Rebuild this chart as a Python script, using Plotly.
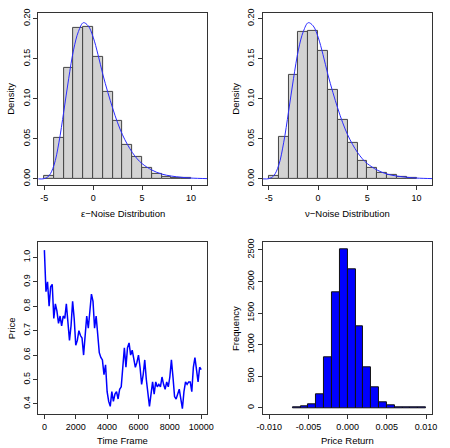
import plotly.graph_objects as go

# ---------------- data ----------------
# panel 1: epsilon-noise histogram (density), bins of width 1
eps_bin_left = [-5, -4, -3, -2, -1, 0, 1, 2, 3, 4, 5, 6, 7, 8, 9]
eps_density = [0.004, 0.051, 0.138, 0.188, 0.190, 0.152, 0.109, 0.072, 0.043, 0.027, 0.014, 0.006, 0.003, 0.0015, 0.0006]
# panel 2: nu-noise histogram (density)
nu_bin_left = [-5, -4, -3, -2, -1, 0, 1, 2, 3, 4, 5, 6, 7, 8, 9]
nu_density = [0.004, 0.052, 0.130, 0.184, 0.185, 0.160, 0.111, 0.074, 0.045, 0.022, 0.014, 0.008, 0.0045, 0.002, 0.001]
# fitted density curve
curve_x = [-5.6, -5.0, -4.5, -4.0, -3.5, -3.0, -2.5, -2.0, -1.5, -1.0, -0.5, 0.0, 0.5, 1.0, 1.5,
           2.0, 2.5, 3.0, 3.5, 4.0, 4.5, 5.0, 6.0, 7.0, 8.0, 9.0, 10.0, 11.7]
curve_eps = [0.0, 0.0003, 0.004, 0.017, 0.045, 0.084, 0.125, 0.161, 0.184, 0.195, 0.191, 0.177, 0.155, 0.130, 0.108,
             0.088, 0.070, 0.055, 0.043, 0.033, 0.025, 0.019, 0.011, 0.006, 0.0035, 0.002, 0.001, 0.0003]
curve_nu = [0.0, 0.0003, 0.004, 0.017, 0.045, 0.084, 0.125, 0.161, 0.184, 0.195, 0.191, 0.177, 0.155, 0.130, 0.108,
            0.088, 0.070, 0.055, 0.043, 0.033, 0.025, 0.019, 0.011, 0.006, 0.0035, 0.002, 0.001, 0.0003]

# panel 3: price path
time_frame = list(range(0, 10001, 100))
price = [1.03, 0.86, 0.90, 0.80, 0.88, 0.89, 0.75, 0.81, 0.78, 0.73,
         0.76, 0.72, 0.76, 0.75, 0.81, 0.74, 0.66, 0.72, 0.82, 0.75,
         0.64, 0.66, 0.70, 0.68, 0.67, 0.60, 0.70, 0.76, 0.71, 0.80,
         0.85, 0.82, 0.71, 0.76, 0.68, 0.61, 0.59, 0.58, 0.52, 0.56,
         0.45, 0.41, 0.39, 0.45, 0.41, 0.44, 0.45, 0.42, 0.46, 0.47,
         0.55, 0.63, 0.55, 0.63, 0.65, 0.60, 0.62, 0.58, 0.55, 0.57,
         0.60, 0.55, 0.48, 0.52, 0.58, 0.50, 0.45, 0.39, 0.44, 0.49,
         0.44, 0.49, 0.47, 0.48, 0.47, 0.51, 0.48, 0.46, 0.49, 0.47,
         0.51, 0.58, 0.51, 0.43, 0.42, 0.44, 0.46, 0.42, 0.38, 0.45,
         0.49, 0.48, 0.49, 0.49, 0.45, 0.55, 0.59, 0.54, 0.49, 0.55, 0.54]

# panel 4: price-return histogram (frequency), bins of width 0.001
ret_bin_left = [-0.007, -0.006, -0.005, -0.004, -0.003, -0.002, -0.001, 0.000, 0.001,
                0.002, 0.003, 0.004, 0.005, 0.006, 0.007, 0.008, 0.009]
ret_freq = [5, 20, 62, 214, 797, 1823, 2516, 2188, 1292, 635, 318, 94, 45, 15, 8, 4, 2]

ret_tickvals = [-0.010, -0.005, 0.0, 0.005, 0.010]
ret_ticktext = ["-0.010", "-0.005", "0.000", "0.005", "0.010"]
noise_tickvals = [-5, 0, 5, 10]
noise_ticktext = ["-5", "0", "5", "10"]

# ---------------- figure ----------------
W, H = 450, 448
def px_x(p): return p / W
def px_y(p): return 1 - p / H

FONT = "Liberation Sans, Arial, sans-serif"
AX = "#333333"

fig = go.Figure()

# panel 1
fig.add_trace(go.Bar(x=[b + 0.5 for b in eps_bin_left], y=eps_density, width=1,
                     marker=dict(color="#d3d3d3", line=dict(color="#444444", width=1)),
                     xaxis="x", yaxis="y", showlegend=False))
fig.add_trace(go.Scatter(x=curve_x, y=curve_eps, mode="lines", line=dict(color="#2b2bff", width=1, shape="spline"),
                         xaxis="x", yaxis="y", showlegend=False))
# panel 2
fig.add_trace(go.Bar(x=[b + 0.5 for b in nu_bin_left], y=nu_density, width=1,
                     marker=dict(color="#d3d3d3", line=dict(color="#444444", width=1)),
                     xaxis="x2", yaxis="y2", showlegend=False))
fig.add_trace(go.Scatter(x=curve_x, y=curve_nu, mode="lines", line=dict(color="#2b2bff", width=1, shape="spline"),
                         xaxis="x2", yaxis="y2", showlegend=False))
# panel 3
fig.add_trace(go.Scatter(x=time_frame, y=price, mode="lines", line=dict(color="#0000ff", width=1.5),
                         xaxis="x3", yaxis="y3", showlegend=False))
# panel 4
fig.add_trace(go.Bar(x=[b + 0.0005 for b in ret_bin_left], y=ret_freq, width=0.001,
                     marker=dict(color="#0000ff", line=dict(color="#111111", width=1)),
                     xaxis="x4", yaxis="y4", showlegend=False))

common = dict(showgrid=False, zeroline=False, showline=True, mirror=True, linecolor=AX, linewidth=1,
              ticks="outside", ticklen=4, tickcolor=AX, tickfont=dict(family=FONT, size=9, color="#000"))

fig.update_layout(
    width=W, height=H, margin=dict(l=0, r=0, t=0, b=0),
    paper_bgcolor="white", plot_bgcolor="white", bargap=0,
    xaxis=dict(domain=[px_x(33), px_x(207)], range=[-5.62, 11.68], tickvals=noise_tickvals, ticktext=noise_ticktext,
               anchor="y", **common),
    yaxis=dict(domain=[px_y(183), px_y(9)], range=[-0.0076, 0.2072], tickvals=[0, 0.05, 0.10, 0.15, 0.20],
               tickformat=".2f", tickangle=-90, anchor="x", **common),
    xaxis2=dict(domain=[px_x(264), px_x(438)], range=[-5.6, 11.6], tickvals=noise_tickvals, ticktext=noise_ticktext,
                anchor="y2", **common),
    yaxis2=dict(domain=[px_y(183), px_y(9)], range=[-0.0076, 0.2072], tickvals=[0, 0.05, 0.10, 0.15, 0.20],
                tickformat=".2f", tickangle=-90, anchor="x2", **common),
    xaxis3=dict(domain=[px_x(33), px_x(207)], range=[-400, 10400], tickvals=[0, 2000, 4000, 6000, 8000, 10000],
                tickformat="d", anchor="y3", **common),
    yaxis3=dict(domain=[px_y(415), px_y(241)], range=[0.357, 1.062], tickvals=[0.4, 0.5, 0.6, 0.7, 0.8, 0.9, 1.0],
                tickformat=".1f", tickangle=-90, anchor="x3", **common),
    xaxis4=dict(domain=[px_x(264), px_x(438)], range=[-0.0108, 0.0108], tickvals=ret_tickvals, ticktext=ret_ticktext,
                anchor="y4", **common),
    yaxis4=dict(domain=[px_y(415), px_y(241)], range=[-103, 2621], tickvals=[0, 500, 1000, 1500, 2000, 2500],
                tickformat="d", tickangle=-90, anchor="x4", **common),
)

tf = dict(family=FONT, size=9.5, color="#000")
ann = [
    dict(text="ε−Noise Distribution", x=px_x(120), y=px_y(212)),
    dict(text="ν−Noise Distribution", x=px_x(351), y=px_y(212)),
    dict(text="Time Frame", x=px_x(120), y=px_y(441)),
    dict(text="Price Return", x=px_x(351), y=px_y(441)),
    dict(text="Density", x=px_x(5), y=px_y(96), textangle=-90),
    dict(text="Density", x=px_x(236), y=px_y(96), textangle=-90),
    dict(text="Price", x=px_x(5), y=px_y(328), textangle=-90),
    dict(text="Frequency", x=px_x(236), y=px_y(328), textangle=-90),
]
for a in ann:
    fig.add_annotation(xref="paper", yref="paper", showarrow=False, font=tf,
                       xanchor="center", yanchor="middle", **a)

fig.write_html("out.html", config={"displayModeBar": False},
               post_script="document.body.style.margin='0';document.body.style.overflow='hidden';")
